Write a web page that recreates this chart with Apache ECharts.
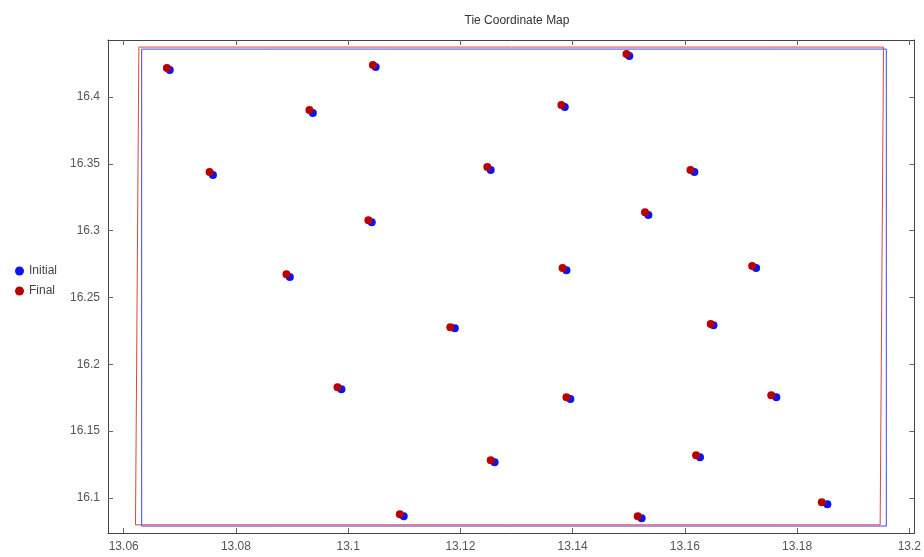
<!DOCTYPE html>
<html>
<head>
<meta charset="utf-8">
<title>Tie Coordinate Map</title>
<script src="https://cdn.jsdelivr.net/npm/echarts@6/dist/echarts.min.js"></script>
<style>
	html, body { margin: 0; padding: 0; background: #fff; }
	#TieMap { width: 924px; height: 557px; }
</style>
</head>
<body>
<div id="TieMap"></div>
<script>
	// tick labels
	const xTicks = [13.06, 13.08, 13.1, 13.12, 13.14, 13.16, 13.18, 13.2]
	const yTicks = [16.1, 16.15, 16.2, 16.25, 16.3, 16.35, 16.4]

	// tie points, [x, y]
	const initialPoints = [
		[13.0682, 16.4202], [13.1049, 16.4225], [13.1501, 16.4307],
		[13.0937, 16.3880], [13.1386, 16.3925], [13.0759, 16.3416],
		[13.1254, 16.3454], [13.1617, 16.3439], [13.1042, 16.3064],
		[13.1535, 16.3117], [13.0896, 16.2653], [13.1389, 16.2705],
		[13.1727, 16.2720], [13.1190, 16.2271], [13.1651, 16.2293],
		[13.0988, 16.1814], [13.1396, 16.1740], [13.1763, 16.1754],
		[13.1261, 16.1268], [13.1627, 16.1305], [13.1099, 16.0864],
		[13.1523, 16.0849], [13.1854, 16.0954]
	]
	const finalPoints = [
		[13.0677, 16.4217], [13.1044, 16.4240], [13.1496, 16.4322],
		[13.0931, 16.3903], [13.1380, 16.3940], [13.0753, 16.3439],
		[13.1248, 16.3476], [13.1610, 16.3454], [13.1036, 16.3079],
		[13.1529, 16.3139], [13.0890, 16.2675], [13.1382, 16.2720],
		[13.1720, 16.2735], [13.1182, 16.2278], [13.1646, 16.2301],
		[13.0981, 16.1829], [13.1389, 16.1754], [13.1754, 16.1769],
		[13.1254, 16.1283], [13.1620, 16.1320], [13.1092, 16.0879],
		[13.1516, 16.0864], [13.1844, 16.0969]
	]

	// outlines of the tie area
	const initialBorder = [
		[13.0632, 16.4359], [13.1959, 16.4359], [13.1959, 16.0790],
		[13.0632, 16.0790], [13.0632, 16.4359]
	]
	const finalBorder = [
		[13.0627, 16.4374], [13.1954, 16.4374], [13.1948, 16.0799],
		[13.0621, 16.0799], [13.0627, 16.4374]
	]

	const labelStyle = { color: '#555', fontSize: 12, fontFamily: 'Liberation Sans, Arial, sans-serif' }

	const makeX = (pos, show) => ({
		type: 'value',
		position: pos,
		min: 13.0572,
		max: 13.2009,
		axisLine: { show: true, onZero: false, lineStyle: { color: '#444' } },
		axisTick: { show: true, inside: true, length: 5, lineStyle: { color: '#666' }, customValues: xTicks },
		axisLabel: Object.assign({ show: show, margin: 8, customValues: xTicks }, labelStyle),
		splitLine: { show: false }
	})
	const makeY = (pos, show) => ({
		type: 'value',
		position: pos,
		min: 16.0738,
		max: 16.4427,
		axisLine: { show: true, onZero: false, lineStyle: { color: '#444' } },
		axisTick: { show: true, inside: true, length: 5, lineStyle: { color: '#666' }, customValues: yTicks },
		axisLabel: Object.assign({ show: show, margin: 8, customValues: yTicks }, labelStyle),
		splitLine: { show: false }
	})

	const option = {
		animation: false,
		backgroundColor: '#fff',
		title: {
			text: 'Tie Coordinate Map',
			left: 512,
			top: 10,
			textAlign: 'center',
			textStyle: { fontSize: 12, fontWeight: 'normal', color: '#333', fontFamily: 'Liberation Sans, Arial, sans-serif' }
		},
		legend: {
			data: ['Initial', 'Final'],
			orient: 'vertical',
			left: 10,
			top: 260,
			itemWidth: 9,
			itemHeight: 9,
			itemGap: 8,
			icon: 'circle',
			textStyle: { fontSize: 12, color: '#444', fontFamily: 'Liberation Sans, Arial, sans-serif' }
		},
		grid: {
			left: 108,
			right: 9,
			top: 40,
			bottom: 24,
			containLabel: false
		},
		xAxis: [makeX('bottom', true), makeX('top', false)],
		yAxis: [makeY('left', true), makeY('right', false)],
		series: [
			{
				name: 'Initial border',
				type: 'line',
				data: initialBorder,
				symbol: 'none',
				lineStyle: { color: '#4444ee', width: 1 },
				silent: true
			},
			{
				name: 'Final border',
				type: 'line',
				data: finalBorder,
				symbol: 'none',
				lineStyle: { color: '#dd4444', width: 1 },
				silent: true
			},
			{
				name: 'Initial',
				type: 'scatter',
				data: initialPoints,
				symbolSize: 8,
				itemStyle: { color: '#0a14f5', opacity: 1 }
			},
			{
				name: 'Final',
				type: 'scatter',
				data: finalPoints,
				symbolSize: 8,
				itemStyle: { color: '#b80000', opacity: 1 }
			}
		]
	}

	const chart = echarts.init(document.getElementById('TieMap'))
	chart.setOption(option)
	window.onresize = () => {
		chart.resize()
	}
</script>
</body>
</html>
